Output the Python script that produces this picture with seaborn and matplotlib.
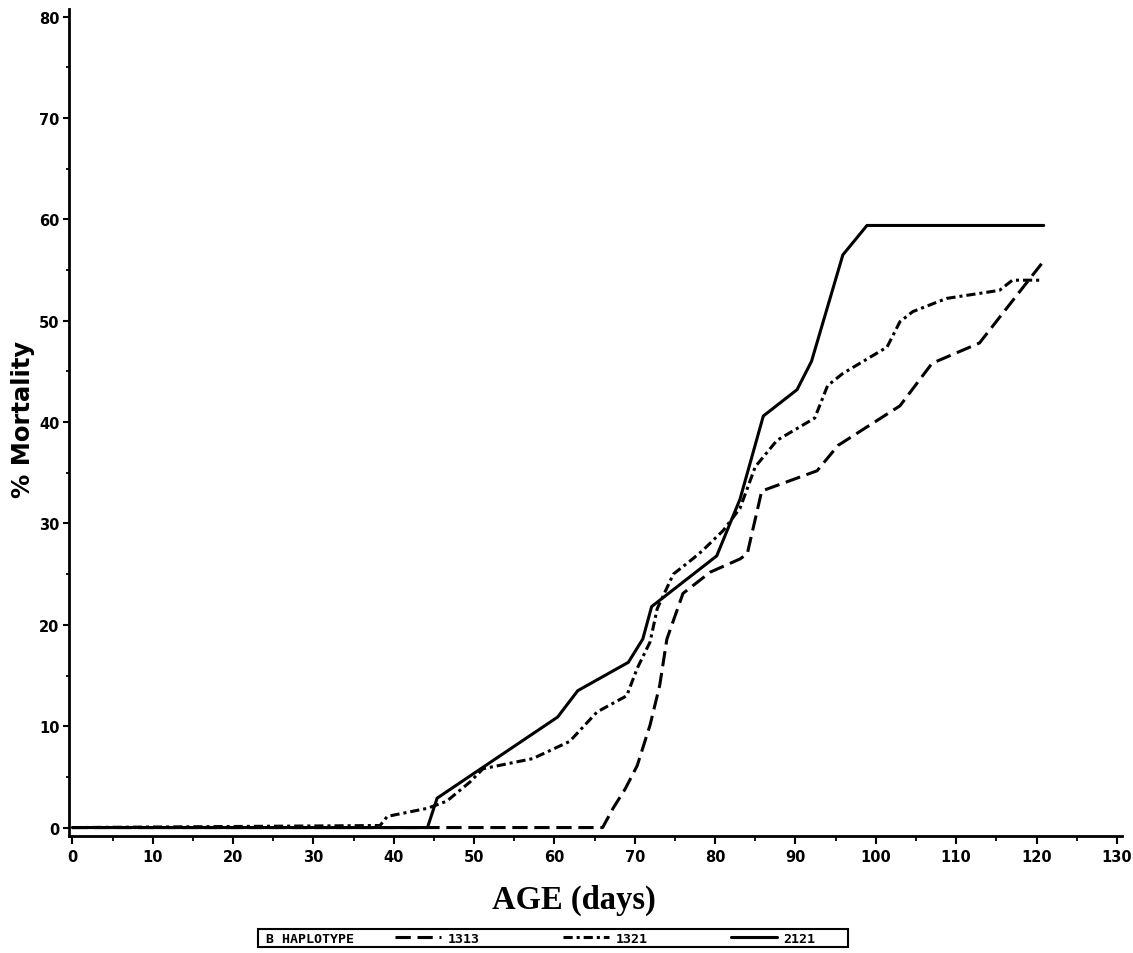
import pandas as pd
import seaborn as sns
import matplotlib.pyplot as plt
from matplotlib.patches import Rectangle
from matplotlib.ticker import MultipleLocator

# % mortality by age for each B haplotype
age_1313 = [0, 66.0, 67.3, 68.8, 70.3, 71.9, 73.1, 74.0, 76.0, 79.4, 83.1, 84.0,
            85.8, 92.7, 95.3, 103.0, 107.0, 112.9, 120.9]
mort_1313 = [0, 0, 1.9, 3.8, 6.1, 10.1, 14.0, 18.6, 23.1, 25.2, 26.5, 27.0,
             33.2, 35.2, 37.7, 41.6, 45.8, 47.8, 55.9]

age_1321 = [0, 38.3, 39.2, 44.2, 46.6, 49.5, 51.1, 57.3, 61.9, 65.3, 69.0, 70.3,
            71.9, 72.8, 74.8, 77.2, 78.4, 81.0, 83.1, 85.0, 87.7, 92.4, 94.0,
            95.9, 101.4, 103.0, 104.6, 108.8, 115.4, 117.0, 120.6]
mort_1321 = [0, 0.2, 1.1, 1.9, 2.6, 4.5, 5.8, 6.8, 8.5, 11.4, 13.0, 15.7,
             18.3, 21.6, 25.0, 26.5, 27.3, 29.3, 31.5, 35.6, 38.2, 40.4, 43.6,
             44.8, 47.4, 49.9, 50.9, 52.2, 53.0, 54.0, 54.0]

age_2121 = [0, 44.2, 45.4, 60.4, 62.9, 69.2, 71.0, 72.1, 80.2, 83.1, 86.0, 90.2,
            92.0, 95.9, 98.9, 120.9]
mort_2121 = [0, 0, 2.9, 10.9, 13.5, 16.3, 18.6, 21.8, 26.8, 32.4, 40.6, 43.2,
             46.0, 56.5, 59.4, 59.4]

haplotypes = ["1313", "1321", "2121"]

df = pd.concat([
    pd.DataFrame({"age": a, "mortality": m, "haplotype": h})
    for a, m, h in zip([age_1313, age_1321, age_2121],
                       [mort_1313, mort_1321, mort_2121], haplotypes)
])

sns.set_style("ticks")
plt.rcParams.update({"text.color": "black", "axes.labelcolor": "black",
                     "xtick.color": "black", "ytick.color": "black"})
tick_font = "DejaVu Sans"

fig = plt.figure(figsize=(11.33, 9.54), dpi=100)
ax = fig.add_axes([0.061, 0.123, 0.929, 0.867])

sns.lineplot(data=df, x="age", y="mortality", style="haplotype",
             style_order=haplotypes,
             dashes={"1313": (5, 2.2), "1321": (3, 1.3, 1, 1.3), "2121": ""},
             color="black", linewidth=2.2, estimator=None, sort=False, ax=ax)

leg = ax.get_legend()
handles = leg.legend_handles
labels = [t.get_text() for t in leg.get_texts()]
leg.remove()

ax.set_xlim(-0.4, 130.6)
ax.set_ylim(-0.8, 80.8)
ax.xaxis.set_major_locator(MultipleLocator(10))
ax.xaxis.set_minor_locator(MultipleLocator(5))
ax.yaxis.set_major_locator(MultipleLocator(10))
ax.yaxis.set_minor_locator(MultipleLocator(5))
ax.tick_params(which="major", direction="out", width=1.5, labelsize=10.5)
ax.tick_params(which="minor", direction="out", width=1.3)
ax.tick_params(axis="x", which="major", length=6, pad=3.5)
ax.tick_params(axis="x", which="minor", length=3.5)
ax.tick_params(axis="y", which="major", length=4, pad=3)
ax.tick_params(axis="y", which="minor", length=2.5)
for lab in ax.get_xticklabels() + ax.get_yticklabels():
    lab.set_fontweight("bold")
    lab.set_family(tick_font)

sns.despine(ax=ax)
for side in ["left", "bottom"]:
    ax.spines[side].set_linewidth(2)
    ax.spines[side].set_color("black")

ax.set_xlabel("AGE (days)", fontfamily="Liberation Serif", fontweight="bold",
              fontsize=23.5, va="top")
ax.xaxis.set_label_coords(0.48, -0.058)
ax.set_ylabel("% Mortality", fontfamily="DejaVu Sans", fontweight="bold",
              fontsize=17.5, va="center")
ax.yaxis.set_label_coords(-0.044, 0.504)

# legend box along the bottom
fig.add_artist(Rectangle((258 / 1133, 1 - 948 / 954), 590 / 1133, 18 / 954,
                         transform=fig.transFigure, fill=False, lw=1.5,
                         ec="black"))
fig.text(266 / 1133, 1 - 939.5 / 954, "B HAPLOTYPE", va="center", ha="left",
         fontsize=9.5, fontfamily="DejaVu Sans Mono", fontweight="bold")
fig.legend(handles, labels, ncol=3, loc="center left",
           bbox_to_anchor=(395 / 1133, 1 - 939.5 / 954), frameon=False,
           handlelength=3.5, handletextpad=0.5, columnspacing=6.3,
           prop={"family": "DejaVu Sans Mono", "weight": "bold", "size": 9.5},
           borderpad=0, borderaxespad=0)

fig.savefig("out.png", dpi=100)
